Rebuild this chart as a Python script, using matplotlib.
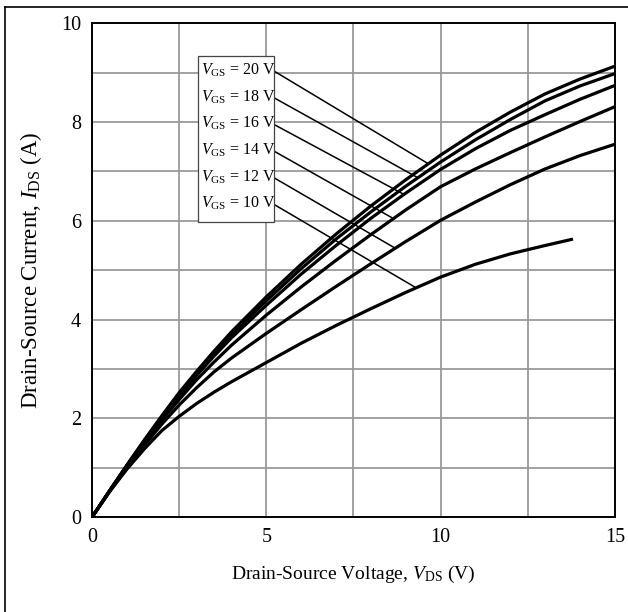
import numpy as np
import matplotlib.pyplot as plt
from matplotlib.ticker import MultipleLocator

plt.rcParams['font.family'] = ['Liberation Serif', 'DejaVu Serif']
plt.rcParams['mathtext.fontset'] = 'custom'
plt.rcParams['mathtext.rm'] = 'Liberation Serif'
plt.rcParams['mathtext.it'] = 'Liberation Serif:italic'

# output characteristics, I_DS (A) against V_DS (V)
vds = [0, 0.5, 1, 1.5, 2, 2.5, 3, 3.5, 4, 5, 6, 7, 8, 9, 10, 11, 12, 13, 14, 15]
ids_20 = [0, 0.53, 1.05, 1.56, 2.05, 2.52, 2.95, 3.36, 3.75, 4.46, 5.12, 5.73,
          6.30, 6.83, 7.33, 7.79, 8.20, 8.57, 8.87, 9.13]
ids_18 = [0, 0.53, 1.05, 1.55, 2.03, 2.49, 2.92, 3.32, 3.70, 4.38, 5.03, 5.63,
          6.18, 6.70, 7.19, 7.64, 8.05, 8.43, 8.73, 8.98]
ids_16 = [0, 0.53, 1.04, 1.53, 2.00, 2.45, 2.87, 3.26, 3.63, 4.29, 4.92, 5.50,
          6.05, 6.56, 7.04, 7.46, 7.83, 8.15, 8.46, 8.74]
ids_14 = [0, 0.52, 1.03, 1.51, 1.96, 2.38, 2.78, 3.14, 3.48, 4.09, 4.66, 5.20,
          5.72, 6.22, 6.69, 7.05, 7.38, 7.70, 8.01, 8.31]
ids_12 = [0, 0.52, 1.00, 1.45, 1.88, 2.27, 2.62, 2.94, 3.22, 3.72, 4.20, 4.67,
          5.13, 5.58, 6.01, 6.38, 6.73, 7.05, 7.32, 7.55]
vds_10 = [0, 0.5, 1, 1.5, 2, 2.5, 3, 3.5, 4, 5, 6, 7, 8, 9, 10, 11, 12, 13, 13.8]
ids_10 = [0, 0.51, 0.97, 1.38, 1.75, 2.04, 2.30, 2.53, 2.74, 3.13, 3.52, 3.88,
          4.22, 4.55, 4.86, 5.12, 5.33, 5.50, 5.63]

vgs = [20, 18, 16, 14, 12, 10]
curves = [(vds, ids_20), (vds, ids_18), (vds, ids_16),
          (vds, ids_14), (vds, ids_12), (vds_10, ids_10)]
# where each label's pointer meets its curve (V_DS)
pointer_x = [9.65, 9.35, 8.95, 8.65, 8.7, 9.3]

fig = plt.figure(figsize=(6.28, 6.12), dpi=100)
ax = fig.add_axes([0.1465, 0.155, 0.8325, 0.807])

for x, y in curves:
    ax.plot(x, y, color='black', lw=2.3, solid_capstyle='butt',
            solid_joinstyle='round', zorder=3)

# label box with pointer lines
box_x0, box_x1 = 3.05, 5.22
box_y0, box_y1 = 5.98, 9.33
ax.add_patch(plt.Rectangle((box_x0, box_y0), box_x1 - box_x0, box_y1 - box_y0,
                           facecolor='white', edgecolor='#444444', lw=0.9, zorder=4))
label_y = np.linspace(9.05, 6.35, len(vgs))
for v, ly, px, (x, y) in zip(vgs, label_y, pointer_x, curves):
    ax.text(box_x0 + 0.08, ly, r'$\mathit{V}_{\mathrm{GS}}$ = %d V' % v,
            fontsize=11.5, va='center', ha='left', zorder=5)
    py = np.interp(px, x, y)
    ax.plot([box_x1 + 0.03, px], [ly - 0.03, py], color='black', lw=1.1, zorder=3)

ax.set_xlim(0, 15)
ax.set_ylim(0, 10)
ax.xaxis.set_major_locator(MultipleLocator(5))
ax.xaxis.set_minor_locator(MultipleLocator(2.5))
ax.yaxis.set_major_locator(MultipleLocator(2))
ax.yaxis.set_minor_locator(MultipleLocator(1))
ax.grid(which='both', color='#9a9a9a', lw=1.3, zorder=0)
ax.set_axisbelow(True)
ax.tick_params(which='both', length=0, labelsize=14.5, pad=8)
for s in ax.spines.values():
    s.set_linewidth(1.4)

ax.set_xlabel(r'Drain-Source Voltage, $\mathit{V}_{\mathrm{DS}}$ (V)', fontsize=14, labelpad=12)
ax.set_ylabel(r'Drain-Source Current, $\mathit{I}_{\mathrm{DS}}$ (A)', fontsize=16.5, labelpad=12)

# thin frame along the left and top edges
fig.add_artist(plt.Line2D([0.008, 0.008], [0.0, 0.989], color='black', lw=1.2))
fig.add_artist(plt.Line2D([0.008, 1.0], [0.989, 0.989], color='black', lw=1.2))

fig.savefig('out.png', dpi=100)
